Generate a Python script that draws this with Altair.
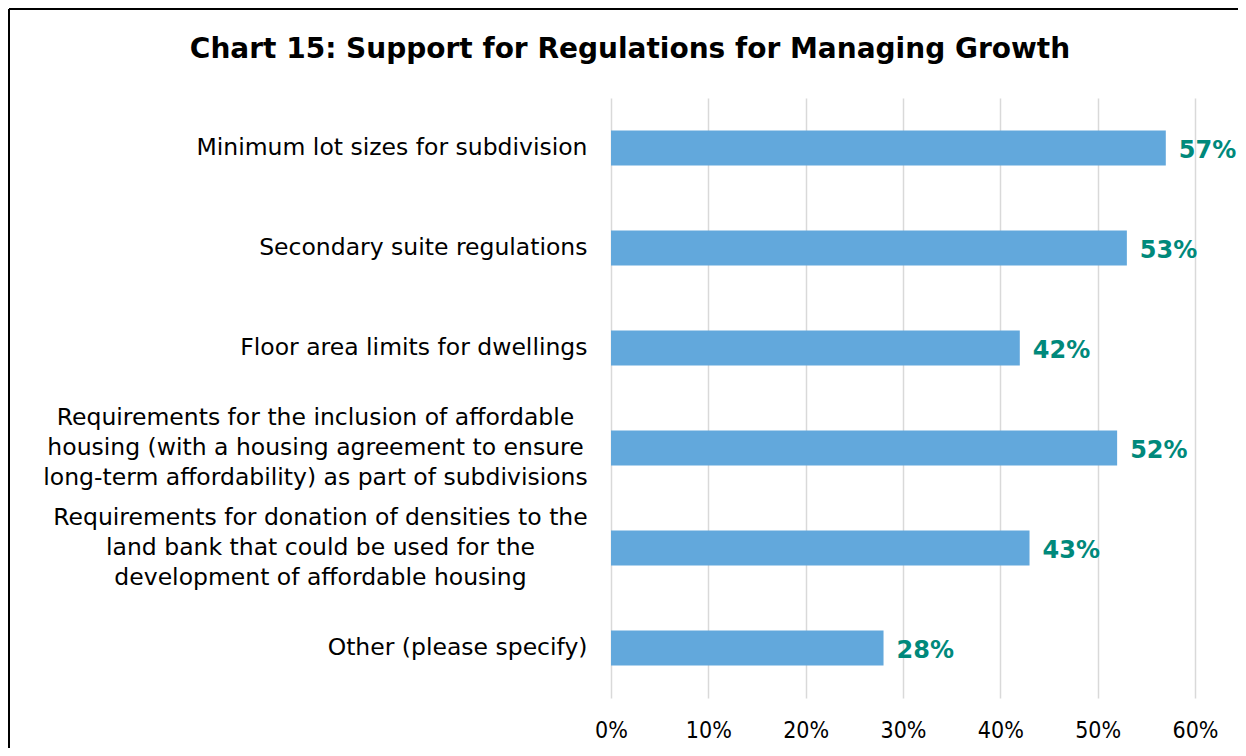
import altair as alt
import pandas as pd

categories = [
    "Minimum lot sizes for subdivision",
    "Secondary suite regulations",
    "Floor area limits for dwellings",
    "Requirements for the inclusion of affordable\nhousing (with a housing agreement to ensure\nlong-term affordability) as part of subdivisions",
    "Requirements for donation of densities to the\nland bank that could be used for the\ndevelopment of affordable housing",
    "Other (please specify)",
]
values = [57, 53, 42, 52, 43, 28]
x_ticks = [0, 10, 20, 30, 40, 50, 60]

df = pd.DataFrame({"category": categories, "value": values})
df["label"] = df["value"].astype(str) + "%"

FONT = "DejaVu Sans"
MULTI = "indexof(datum.value, '\\n') >= 0"

base = alt.Chart(df)

y_enc = alt.Y(
    "category:N",
    sort=categories,
    scale=alt.Scale(paddingInner=0.65, paddingOuter=0.325),
    axis=alt.Axis(
        title=None,
        domain=False,
        ticks=False,
        grid=False,
        labelExpr="split(datum.label, '\\n')",
        labelFont=FONT,
        labelFontSize=23.5,
        labelLineHeight=30,
        labelColor="#000000",
        labelAlign={"condition": {"test": MULTI, "value": "center"}, "value": "right"},
        labelOffset={"condition": {"test": MULTI, "value": -30}, "value": 0},
        labelPadding={
            "condition": [
                {"test": "indexof(datum.value, 'inclusion') >= 0", "value": 296},
                {"test": "indexof(datum.value, 'donation') >= 0", "value": 291},
            ],
            "value": 24,
        },
        labelLimit=700,
    ),
)

bars = base.mark_bar(color="#62A8DC").encode(
    x=alt.X(
        "value:Q",
        scale=alt.Scale(domain=[0, 60], nice=False),
        axis=alt.Axis(
            title=None,
            values=x_ticks,
            labelExpr="datum.value + '%'",
            domain=False,
            ticks=False,
            grid=True,
            gridColor="#d9d9d9",
            gridWidth=1.5,
            labelFlush=False,
            labelFont="DejaVu Sans Condensed",
            labelFontSize=23,
            labelColor="#000000",
            labelPadding=21,
        ),
    ),
    y=y_enc,
)

texts = base.mark_text(
    align="left", baseline="middle", dx=13, dy=3,
    font=FONT, fontSize=24, fontWeight="bold", color="#00897B",
).encode(x="value:Q", y=alt.Y("category:N", sort=categories), text="label:N")

border_left = alt.Chart(df).mark_rule(color="#000000", strokeWidth=1.5).encode(
    x=alt.value(-602), y=alt.value(-89), y2=alt.value(700)
)
border_top = alt.Chart(df).mark_rule(color="#000000", strokeWidth=1.5).encode(
    x=alt.value(-602), x2=alt.value(700), y=alt.value(-89)
)

chart = alt.layer(bars, texts, border_left, border_top).properties(
    width=584,
    height=600,
    autosize=alt.AutoSizeParams(type="none"),
    padding={"left": 603, "top": 90, "right": 43, "bottom": 50},
    title=alt.TitleParams(
        "Chart 15: Support for Regulations for Managing Growth",
        font=FONT,
        fontSize=28,
        fontWeight="bold",
        color="#000000",
        anchor="middle",
        dx=-273,
        offset=-56,
    ),
).configure_view(stroke=None)

chart.save("out.html", embed_options={"renderer": "svg", "actions": False})
